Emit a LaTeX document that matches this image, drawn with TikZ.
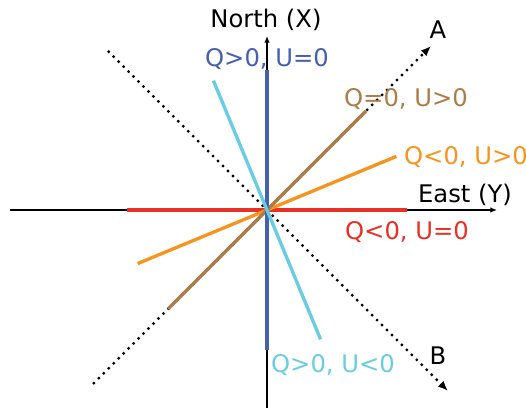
\documentclass[tikz,border=0pt]{standalone}
\usepackage{fontspec}
\setmainfont{DejaVu Sans}
\usepackage{tikz}
\usetikzlibrary{arrows.meta}
\definecolor{qblue}{RGB}{70,95,175}
\definecolor{qcyan}{RGB}{105,205,225}
\definecolor{qbrown}{RGB}{172,125,72}
\definecolor{qorange}{RGB}{247,148,30}
\definecolor{qred}{RGB}{232,48,38}

\begin{document}
\begin{tikzpicture}[x=0.02cm,y=0.02cm,
    axis/.style={black,line width=0.9pt,-{Latex[length=3.8pt,width=3.2pt]}},
    stokes/.style={line width=1.9pt},
    diag/.style={black,line width=1.3pt,dash pattern=on 1.3pt off 2.7pt,
                 -{Latex[length=5.8pt,width=4.6pt]}},
    lab/.style={font=\fontsize{13.8}{16}\selectfont,anchor=base}]
  \useasboundingbox (0,0) rectangle (526,408);
  \coordinate (O) at (267,198);
  % axes
  \coordinate (west) at (10,198);
  \coordinate (south) at (267,0);
  \node[lab] (north) at (266,380) {North (X)};
  \node[lab] (east) at (465,205) {East (Y)};
  \draw[axis] (west) -- (497,198) coordinate (eastTip);
  \draw[axis] (south) -- (267,372) coordinate (northTip);
  % directions A and B
  \coordinate (a0) at ([shift={(225:246)}]O);
  \coordinate (a1) at ([shift={(45:232)}]O);
  \coordinate (b0) at ([shift={(135:225)}]O);
  \coordinate (b1) at ([shift={(-45:256)}]O);
  \draw[diag] (a0) -- (a1);
  \draw[diag] (b0) -- (b1);
  \node[lab] (A) at (438,369) {A};
  \node[lab] (B) at (438,43) {B};
  % one line per polarisation angle
  \foreach \ang/\col/\nm in {0/qred/r, 22.5/qorange/o, 45/qbrown/w,
                             90/qblue/u, 112.5/qcyan/c}
     { \coordinate (\nm0) at ([shift={(\ang+180:140)}]O);
       \coordinate (\nm1) at ([shift={(\ang:140)}]O);
       \draw[stokes,\col] (\nm0) -- (\nm1); }
  \node[lab,qblue] (lu) at (267,341) {Q>0, U=0};
  \node[lab,qbrown] (lw) at (406,301) {Q=0, U>0};
  \node[lab,qorange] (lo) at (466,243) {Q<0, U>0};
  \node[lab,qred] (lr) at (407,168) {Q<0, U=0};
  \node[lab,qcyan] (lc) at (333,35) {Q>0, U<0};
\end{tikzpicture}
\end{document}
